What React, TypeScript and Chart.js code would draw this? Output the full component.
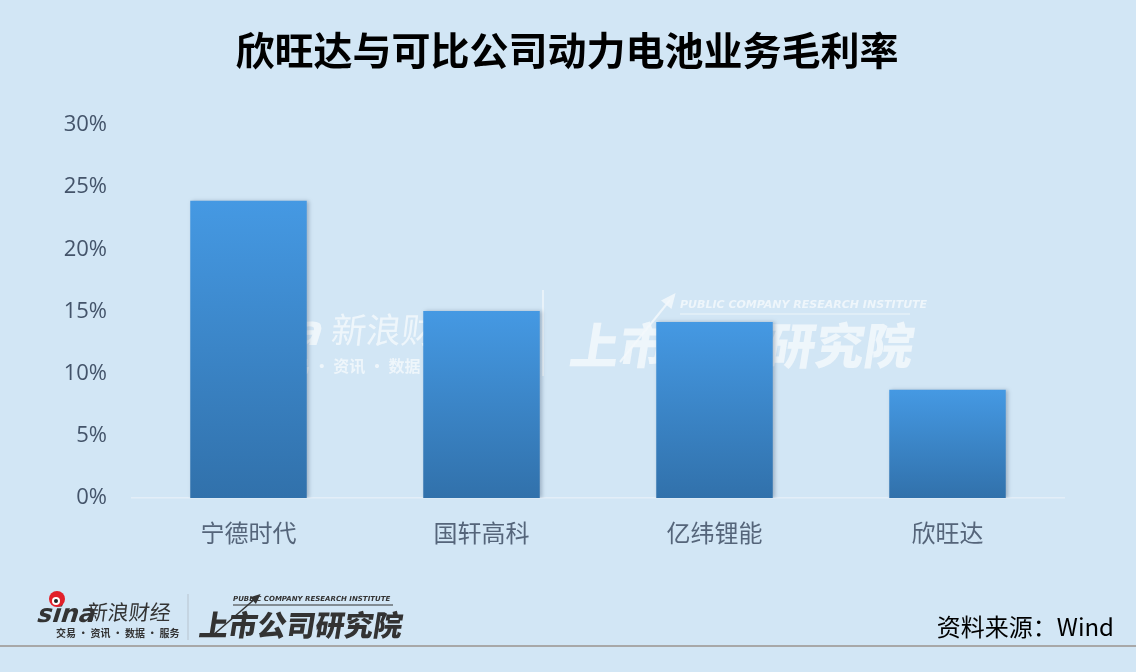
import React, { useEffect, useRef } from "react";
import { Chart, registerables } from "chart.js";

Chart.register(...registerables);

const TITLE = "欣旺达与可比公司动力电池业务毛利率";
const SOURCE = "资料来源：Wind";
const categories = ["宁德时代", "国轩高科", "亿纬锂能", "欣旺达"];
const margins = [23.9, 15.05, 14.15, 8.7];
const yTicks = [0, 5, 10, 15, 20, 25, 30];

const BG = "#d2e6f5";
const CJK = '"Noto Sans CJK SC", "Noto Sans", sans-serif';

function skewText(ctx: CanvasRenderingContext2D, text: string, x: number, y: number, skew: number) {
  ctx.save();
  ctx.translate(x, y);
  ctx.transform(1, 0, -skew, 1, 0, 0);
  ctx.fillText(text, 0, 0);
  ctx.restore();
}

function drawArrow(ctx: CanvasRenderingContext2D, x1: number, y1: number, x2: number, y2: number, w: number, head: number) {
  ctx.lineWidth = w;
  ctx.beginPath();
  ctx.moveTo(x1, y1);
  ctx.lineTo(x2, y2);
  ctx.stroke();
  const a = Math.atan2(y2 - y1, x2 - x1);
  ctx.beginPath();
  ctx.moveTo(x2 + Math.cos(a) * head, y2 + Math.sin(a) * head);
  ctx.lineTo(x2 + Math.cos(a + 2.3) * head, y2 + Math.sin(a + 2.3) * head);
  ctx.lineTo(x2 + Math.cos(a - 2.3) * head, y2 + Math.sin(a - 2.3) * head);
  ctx.closePath();
  ctx.fill();
}

function drawFooterLogo(ctx: CanvasRenderingContext2D) {
  ctx.save();
  ctx.fillStyle = "#333";
  ctx.strokeStyle = "#333";
  ctx.textAlign = "left";
  ctx.textBaseline = "alphabetic";
  ctx.font = `italic 900 25px "DejaVu Sans", sans-serif`;
  skewText(ctx, "sina", 37, 622, 0.12);
  // red eye
  ctx.fillStyle = "#e2202a";
  ctx.beginPath();
  ctx.arc(57, 599, 8, 0, Math.PI * 2);
  ctx.fill();
  ctx.fillStyle = "#fff";
  ctx.beginPath();
  ctx.arc(56, 601, 4, 0, Math.PI * 2);
  ctx.fill();
  ctx.fillStyle = "#222";
  ctx.beginPath();
  ctx.arc(56, 601, 2, 0, Math.PI * 2);
  ctx.fill();
  ctx.fillStyle = "#333";
  ctx.font = `21px ${CJK}`;
  skewText(ctx, "新浪财经", 86, 620, 0.12);
  ctx.font = `bold 10px ${CJK}`;
  ctx.fillText("交易 · 资讯 · 数据 · 服务", 56, 637);
  ctx.strokeStyle = "#b8c4cf";
  ctx.lineWidth = 1;
  ctx.beginPath();
  ctx.moveTo(188, 594);
  ctx.lineTo(188, 640);
  ctx.stroke();
  ctx.strokeStyle = "#333";
  ctx.font = `900 29px ${CJK}`;
  skewText(ctx, "上市公司研究院", 198, 636, 0.16);
  ctx.font = `bold italic 7px "DejaVu Sans", sans-serif`;
  ctx.fillText("PUBLIC COMPANY RESEARCH INSTITUTE", 233, 601);
  ctx.lineWidth = 1;
  ctx.beginPath();
  ctx.moveTo(233, 605);
  ctx.lineTo(393, 605);
  ctx.stroke();
  drawArrow(ctx, 212, 636, 256, 598, 1.5, 6);
  ctx.restore();
}

function drawWatermark(ctx: CanvasRenderingContext2D) {
  ctx.save();
  ctx.globalAlpha = 0.85;
  ctx.fillStyle = "#f3f8fc";
  ctx.strokeStyle = "#f3f8fc";
  ctx.textAlign = "left";
  ctx.textBaseline = "alphabetic";
  ctx.font = `italic 900 42px "DejaVu Sans", sans-serif`;
  ctx.textAlign = "right";
  skewText(ctx, "sina", 322, 345, 0.12);
  ctx.textAlign = "left";
  ctx.font = `35px ${CJK}`;
  skewText(ctx, "新浪财经", 330, 343, 0.12);
  ctx.font = `bold 16px ${CJK}`;
  ctx.fillText("交易 · 资讯 · 数据 · 服务", 278, 372);
  ctx.lineWidth = 1.5;
  ctx.beginPath();
  ctx.moveTo(543, 290);
  ctx.lineTo(543, 376);
  ctx.stroke();
  ctx.font = `900 49px ${CJK}`;
  skewText(ctx, "上市公司研究院", 568, 364, 0.16);
  ctx.font = `bold italic 11px "DejaVu Sans", sans-serif`;
  ctx.fillText("PUBLIC COMPANY RESEARCH INSTITUTE", 680, 308);
  ctx.lineWidth = 1.2;
  ctx.beginPath();
  ctx.moveTo(680, 314);
  ctx.lineTo(910, 314);
  ctx.stroke();
  drawArrow(ctx, 620, 362, 670, 300, 2, 9);
  ctx.restore();
}

const decorPlugin = {
  id: "decor",
  beforeDraw(chart: any) {
    const ctx = chart.ctx as CanvasRenderingContext2D;
    ctx.save();
    ctx.fillStyle = BG;
    ctx.fillRect(0, 0, chart.width, chart.height);
    ctx.restore();
  },
  beforeDatasetsDraw(chart: any) {
    const ctx = chart.ctx as CanvasRenderingContext2D;
    drawWatermark(ctx);
    ctx.save();
    ctx.shadowColor = "rgba(40,60,90,0.3)";
    ctx.shadowBlur = 4;
    ctx.shadowOffsetX = 2;
    ctx.shadowOffsetY = 0;
  },
  afterDatasetsDraw(chart: any) {
    chart.ctx.restore();
  },
  afterDraw(chart: any) {
    const ctx = chart.ctx as CanvasRenderingContext2D;
    ctx.save();
    ctx.fillStyle = "#000";
    ctx.font = `bold 39px ${CJK}`;
    ctx.textAlign = "center";
    ctx.textBaseline = "middle";
    ctx.fillText(TITLE, 567, 50);
    ctx.restore();

    drawFooterLogo(ctx);

    ctx.save();
    ctx.fillStyle = "#000";
    ctx.font = `24px ${CJK}`;
    ctx.textAlign = "right";
    ctx.textBaseline = "middle";
    ctx.fillText(SOURCE, 1114, 627);
    ctx.strokeStyle = "#a8a8a8";
    ctx.lineWidth = 2;
    ctx.beginPath();
    ctx.moveTo(0, 646);
    ctx.lineTo(chart.width, 646);
    ctx.stroke();
    ctx.restore();
  },
};

export default function App() {
  const canvasRef = useRef<HTMLCanvasElement | null>(null);

  useEffect(() => {
    document.body.style.margin = "0";
    document.body.style.background = BG;
    const canvas = canvasRef.current;
    if (!canvas) return;
    const chart = new Chart(canvas, {
      type: "bar",
      data: {
        labels: categories,
        datasets: [
          {
            data: margins,
            backgroundColor: (c: any) => {
              const ch = c.chart;
              const area = ch.chartArea;
              const y = ch.scales && ch.scales.y;
              if (!area || !y || typeof c.raw !== "number") return "#3d85cc";
              const top = y.getPixelForValue(c.raw);
              const bottom = y.getPixelForValue(0);
              const g = ch.ctx.createLinearGradient(0, top, 0, bottom);
              g.addColorStop(0, "#4599e3");
              g.addColorStop(1, "#3171ab");
              return g;
            },
            borderWidth: 0,
            barPercentage: 0.5,
            categoryPercentage: 1,
          },
        ],
      },
      options: {
        animation: false,
        responsive: true,
        maintainAspectRatio: false,
        layout: { padding: { top: 125, right: 72, bottom: 0, left: 0 } },
        plugins: {
          legend: { display: false },
          title: { display: false },
          tooltip: { enabled: false },
        },
        scales: {
          x: {
            grid: { display: false, drawTicks: false },
            border: { display: true, color: "#e3eef8", width: 1.5 },
            ticks: {
              color: "#55657a",
              font: { family: CJK, size: 24 },
              padding: 20,
            },
            afterFit: (s: any) => {
              s.height = 174;
            },
          },
          y: {
            min: 0,
            max: 30,
            afterBuildTicks: (s: any) => {
              s.ticks = yTicks.map((v) => ({ value: v }));
            },
            grid: { display: false, drawTicks: false },
            border: { display: false },
            ticks: {
              color: "#44546a",
              font: { family: '"Open Sans", sans-serif', size: 22 },
              padding: 25,
              callback: (v: any) => `${v}%`,
            },
            afterFit: (s: any) => {
              s.width = 132;
            },
          },
        },
      },
      plugins: [decorPlugin],
    });
    return () => chart.destroy();
  }, []);

  return (
    <div style={{ position: "fixed", left: 0, top: 0, width: 1136, height: 672, background: BG }}>
      <canvas ref={canvasRef} />
    </div>
  );
}
